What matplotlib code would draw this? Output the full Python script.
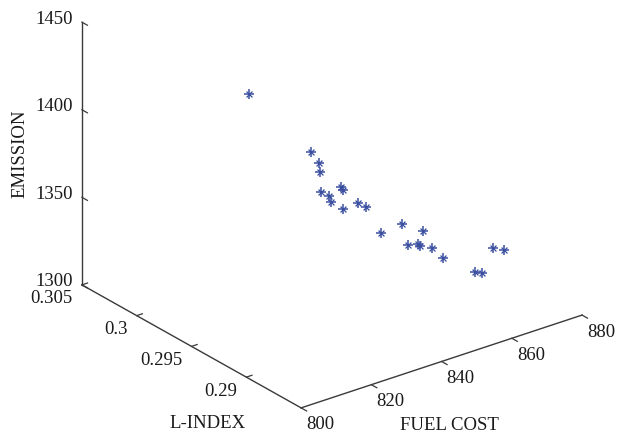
import numpy as np
import matplotlib
matplotlib.use("Agg")
import matplotlib.pyplot as plt
from mpl_toolkits.mplot3d import proj3d

plt.rcParams['font.family'] = ['Liberation Serif', 'DejaVu Serif']

# pareto points: fuel cost, L-index, emission
fuel_cost = [807.6, 824.1, 826.0, 826.0, 826.9, 828.2, 829.1, 831.3, 831.6, 832.2, 835.6, 837.5,
             841.5, 846.8, 848.9, 851.1, 852.0, 852.2, 854.8, 857.6, 866.4, 868.1, 870.9, 873.7]
l_index = [0.2922, 0.2918, 0.2917, 0.2916, 0.2918, 0.2915, 0.2916, 0.2914, 0.2913, 0.2915, 0.2912, 0.2911,
           0.2910, 0.2908, 0.2909, 0.2907, 0.2908, 0.2906, 0.2906, 0.2905, 0.2904, 0.2903, 0.2902, 0.2901]
emission = [1448.8, 1406.2, 1399.0, 1394.2, 1381.5, 1379.4, 1375.0, 1382.8, 1381.3, 1369.3, 1371.6, 1368.4,
            1351.3, 1353.5, 1339.9, 1339.7, 1337.6, 1346.7, 1335.3, 1328.1, 1314.6, 1313.3, 1326.0, 1323.4]

x_ticks = [800, 820, 840, 860, 880]
y_ticks = [0.29, 0.295, 0.3, 0.305]
y_tick_labels = ['0.29', '0.295', '0.3', '0.305']
z_ticks = [1300, 1350, 1400, 1450]

xlim = (800, 880)
ylim = (0.285, 0.305)
zlim = (1300, 1450)

W, H = 621, 433
fig = plt.figure(figsize=(W / 100, H / 100), dpi=100)
ax = fig.add_axes([0, 0, 1, 1], projection='3d', proj_type='ortho')
ax.set_box_aspect((354, 360, 291))
ax.view_init(elev=25.5, azim=-127.5)
ax.set_xlim(*xlim)
ax.set_ylim(*ylim)
ax.set_zlim(*zlim)
ax.set_axis_off()
fig.canvas.draw()


def proj(x, y, z):
    px, py, _ = proj3d.proj_transform(x, y, z, ax.get_proj())
    return px, py


def pix(x, y, z):
    return ax.transData.transform(proj(x, y, z))


# fit axes position so the box corners land where the reference has them
pts = [(800, 0.305, 1300), (800, 0.305, 1450), (800, 0.285, 1300), (880, 0.285, 1300)]
targets = [(82, 285), (82, 22), (301, 408), (582, 315)]
bb = ax.get_position()
o = np.array([bb.x0 * W, bb.y0 * H])
L = bb.width * W
rows, rhs = [], []
for p, t in zip(pts, targets):
    u = (pix(*p) - o) / L
    rows.append([1, 0, u[0]])
    rhs.append(t[0])
    rows.append([0, 1, u[1]])
    rhs.append(H - t[1])
ox, oy, L2 = np.linalg.lstsq(np.array(rows), np.array(rhs, dtype=float), rcond=None)[0]
ax.set_position([ox / W, oy / H, L2 / W, L2 / H])

axis_col = '#3a3a3a'
txt_col = '#1a1a1a'
fs = 13.5

# axis lines
ax.plot([800, 800], [0.305, 0.305], [1300, 1450], color=axis_col, lw=1.0)
ax.plot([800, 800], [0.305, 0.285], [1300, 1300], color=axis_col, lw=1.0)
ax.plot([800, 880], [0.285, 0.285], [1300, 1300], color=axis_col, lw=1.0)

# ticks
for z in z_ticks:
    ax.plot([800, 800], [0.305, 0.3045], [z, z], color=axis_col, lw=0.9)
for y in y_ticks:
    ax.plot([800, 801.6], [y, y], [1300, 1300], color=axis_col, lw=0.9)
for x in x_ticks:
    ax.plot([x, x], [0.285, 0.2845], [1300, 1300], color=axis_col, lw=0.9)

# points (matlab style asterisk)
col = '#3a4ea0'
ax.scatter(fuel_cost, l_index, emission, marker='+', s=62, c=col, linewidths=1.1, depthshade=False)
ax.scatter(fuel_cost, l_index, emission, marker='x', s=18, c=col, linewidths=0.9, depthshade=False)

# tick labels
for z in z_ticks:
    ax.annotate(str(z), xy=proj(800, 0.305, z), xytext=(-9, 3), textcoords='offset pixels',
                ha='right', va='center', fontsize=fs, color=txt_col, annotation_clip=False)
for y, lbl in zip(y_ticks, y_tick_labels):
    ax.annotate(lbl, xy=proj(800, y, 1300), xytext=(-9, -14), textcoords='offset pixels',
                ha='right', va='center', fontsize=fs, color=txt_col, annotation_clip=False)
for x in x_ticks:
    ax.annotate(str(x), xy=proj(x, 0.285, 1300), xytext=(19, -17), textcoords='offset pixels',
                ha='center', va='center', fontsize=fs, color=txt_col, annotation_clip=False)

# axis labels
ax.annotate('EMISSION', xy=proj(800, 0.305, 1375), xytext=(-62, 0), textcoords='offset pixels',
            ha='center', va='center', rotation=90, fontsize=fs, color=txt_col, annotation_clip=False)
ax.annotate('L-INDEX', xy=proj(800, 0.295, 1300), xytext=(16, -77), textcoords='offset pixels',
            ha='center', va='center', fontsize=fs, color=txt_col, annotation_clip=False)
ax.annotate('FUEL COST', xy=proj(840, 0.285, 1300), xytext=(8, -64), textcoords='offset pixels',
            ha='center', va='center', fontsize=fs, color=txt_col, annotation_clip=False)

fig.savefig('out.png', dpi=100)
